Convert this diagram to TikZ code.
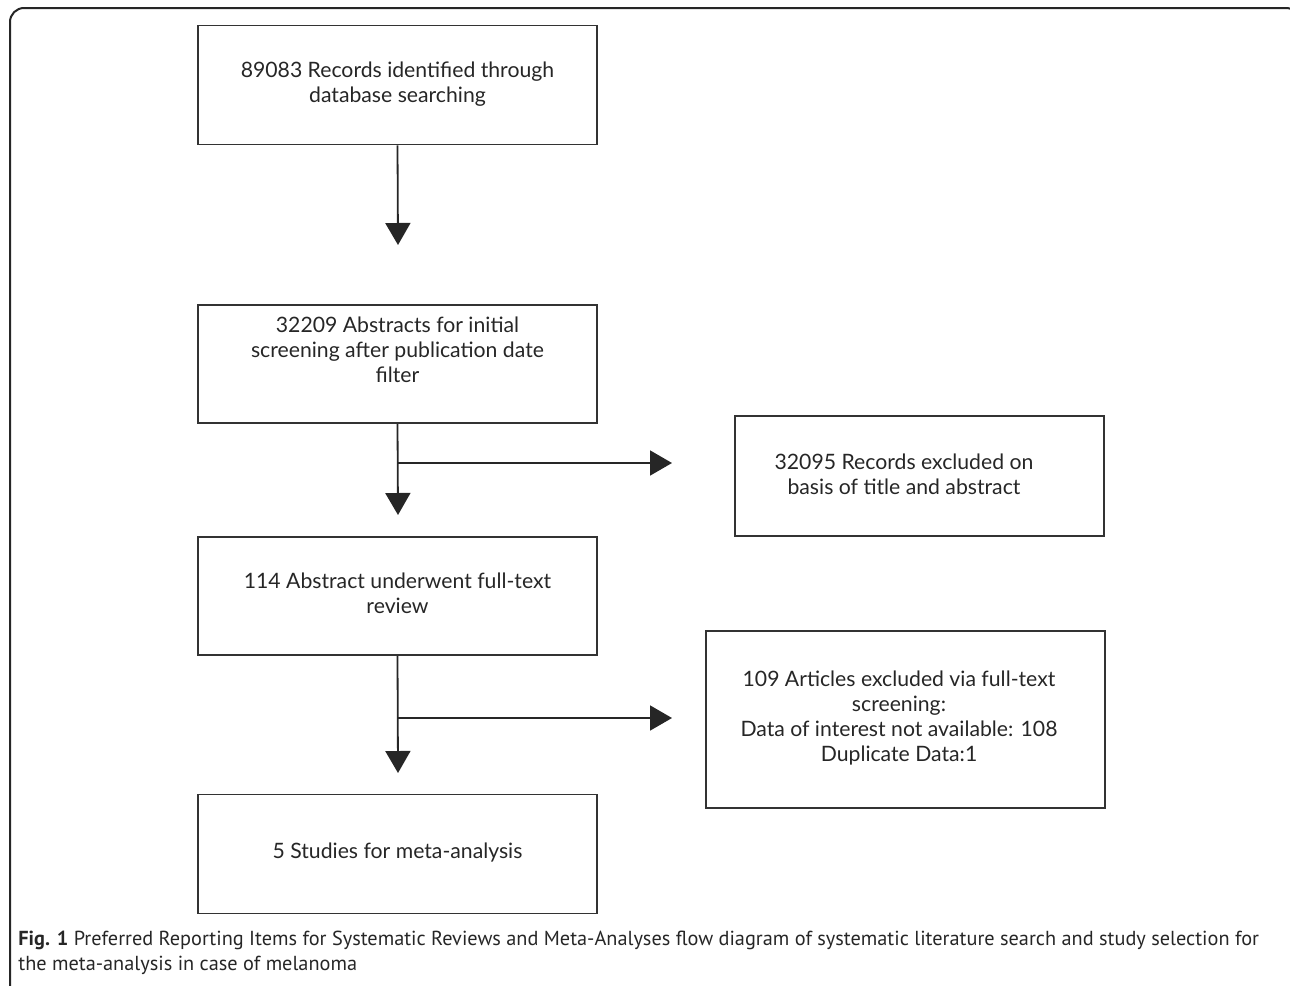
\documentclass[tikz,border=0pt]{standalone}
\usepackage{fontspec}
\setmainfont{Lato}
\newfontfamily\capfont{PT Sans}
\usetikzlibrary{arrows.meta}
\begin{document}
\begin{tikzpicture}[x=0.5pt,y=-0.5pt,
  boxst/.style={draw=black!80,line width=0.9pt,minimum width=199.5pt,inner sep=0pt},
  txt/.style={align=center,font=\fontsize{10.6pt}{12.6pt}\selectfont,text=black!85,inner sep=0pt},
  arr/.style={draw=black!85,line width=0.9pt,-{Triangle[length=11pt,width=12.5pt]}},
  capst/.style={anchor=base west,inner sep=0pt,font=\capfont\fontsize{10.15pt}{12.5pt}\selectfont,text=black!85}]
\useasboundingbox (0,0) rectangle (1290,985);
\draw[black!85,line width=1pt,rounded corners=7pt] (10,8) rectangle (1300,1000);
% boxes
\node[boxst,minimum height=59.5pt] (b1) at (397.5,85) {};
\node[boxst,minimum height=59pt] (b2) at (397.5,364) {};
\node[boxst,minimum width=184.5pt,minimum height=60pt] (b3) at (919.5,476) {};
\node[boxst,minimum height=59pt] (b4) at (397.5,596) {};
\node[boxst,minimum height=88.5pt] (b5) at (905.5,719.5) {};
\node[boxst,minimum height=59.5pt] (b6) at (397.5,854) {};
% texts
\node[txt] (t1) at (397.5,84) {89083 Records identified through\\database searching};
\node[txt] (t2) at (397.5,350) {32209 Abstracts for initial\\screening after publication date\\filter};
\node[txt] (t3) at (904,474) {32095 Records excluded on\\basis of title and abstract};
\node[txt] (t4) at (397.5,593) {114 Abstract underwent full-text\\review};
\node[txt] (t5) at (899,718) {109 Articles excluded via full-text\\screening:\\Data of interest not available: 108\\Duplicate Data:1};
\node[txt] (t6) at (397.5,853) {5 Studies for meta-analysis};
% connectors
\coordinate (a1) at (398,245);
\coordinate (a2) at (398,515);
\coordinate (j2) at (398,463);
\coordinate (h2) at (672,463);
\coordinate (a4) at (398,773);
\coordinate (j4) at (398,718);
\coordinate (h4) at (672,718);
\draw[arr] (b1.south) -- (a1);
\draw[arr] (b2.south) -- (a2);
\draw[arr] (j2) -- (h2);
\draw[arr] (b4.south) -- (a4);
\draw[arr] (j4) -- (h4);
% caption
\node[capst] (c1) at (18,945) {\textbf{Fig. 1} Preferred Reporting Items for Systematic Reviews and Meta-Analyses flow diagram of systematic literature search and study selection for};
\node[capst] (c2) at (18,970) {the meta-analysis in case of melanoma};
\end{tikzpicture}
\end{document}
